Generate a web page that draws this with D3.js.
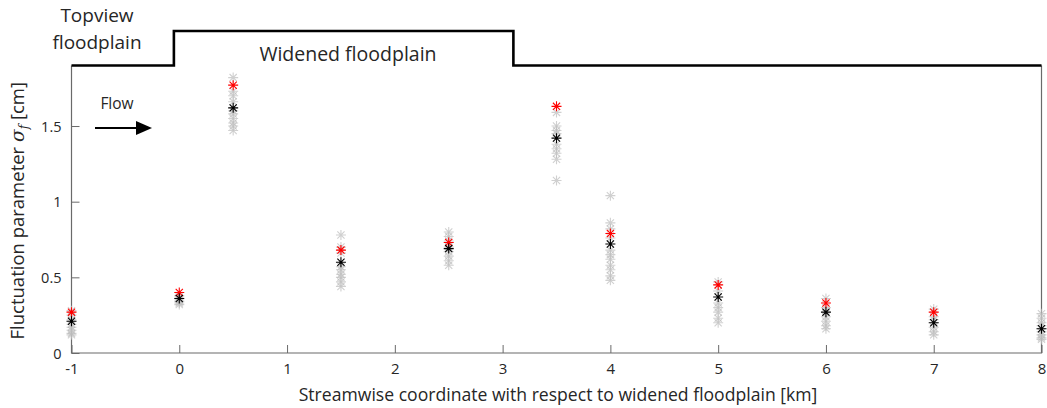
<!DOCTYPE html>
<html>
<head>
<meta charset="utf-8">
<script src="https://cdn.jsdelivr.net/npm/d3@7"></script>
<style>
  html, body { margin: 0; padding: 0; background: #fff; }
  svg { display: block; font-family: "Open Sans", "DejaVu Sans", sans-serif; }
</style>
</head>
<body>
<svg id="chart" width="1047" height="408"></svg>
<script>
// Measurement stations along the reach [km]
const stations = [-1, 0, 0.5, 1.5, 2.5, 3.5, 4, 5, 6, 7, 8];
// Individual runs (grey), highlighted run (red) and mean (black), sigma_f [cm]
const runValues = [
  [0.28, 0.25, 0.22, 0.19, 0.17, 0.15, 0.13, 0.12],
  [0.38, 0.37, 0.35, 0.34, 0.33, 0.32],
  [1.82, 1.73, 1.70, 1.66, 1.60, 1.58, 1.55, 1.52, 1.50, 1.47],
  [0.78, 0.70, 0.66, 0.57, 0.55, 0.52, 0.50, 0.47, 0.44],
  [0.80, 0.77, 0.74, 0.70, 0.67, 0.64, 0.61, 0.58],
  [1.59, 1.50, 1.47, 1.45, 1.38, 1.35, 1.32, 1.28, 1.14],
  [1.04, 0.86, 0.82, 0.76, 0.68, 0.65, 0.62, 0.58, 0.55, 0.51, 0.48],
  [0.47, 0.41, 0.33, 0.30, 0.27, 0.23, 0.20],
  [0.36, 0.30, 0.24, 0.21, 0.18, 0.16],
  [0.29, 0.24, 0.22, 0.17, 0.14, 0.12],
  [0.26, 0.23, 0.20, 0.18, 0.14, 0.12, 0.10, 0.09]
];
const redValues = [0.27, 0.40, 1.77, 0.68, 0.73, 1.63, 0.79, 0.45, 0.33, 0.27, null];
const meanValues = [0.21, 0.36, 1.62, 0.60, 0.69, 1.42, 0.72, 0.37, 0.27, 0.20, 0.16];

const xTicks = [-1, 0, 1, 2, 3, 4, 5, 6, 7, 8];
const xTickLabels = ["-1", "0", "1", "2", "3", "4", "5", "6", "7", "8"];
const yTicks = [0, 0.5, 1, 1.5];
const yTickLabels = ["0", "0.5", "1", "1.5"];

// Floodplain top-view outline: [km, level] (level 0 = axes top, 1 = widened)
const outlineX = [-1, -0.05, -0.05, 3.1, 3.1, 8];
const outlineLevel = [0, 0, 1, 1, 0, 0];

const svg = d3.select("#chart");
const x = d3.scaleLinear().domain([-1, 8]).range([71.5, 1041.5]);
const y = d3.scaleLinear().domain([0, 1.9]).range([353, 65.5]);
const axisColor = "#6a6a6a";
const textColor = "#262626";

// Axes: bottom, left and right edges; ticks point inward
const xAxis = svg.append("g").attr("transform", `translate(0,${y(0)})`)
  .call(d3.axisBottom(x).tickValues(xTicks).tickSize(-8).tickPadding(10)
    .tickFormat((d, i) => xTickLabels[i]));
const yAxis = svg.append("g").attr("transform", `translate(${x(-1)},0)`)
  .call(d3.axisLeft(y).tickValues(yTicks).tickSize(-8).tickPadding(10)
    .tickFormat((d, i) => yTickLabels[i]));
[xAxis, yAxis].forEach(g => {
  g.select(".domain").remove();
  g.selectAll(".tick line").attr("stroke", axisColor);
  g.selectAll(".tick text").attr("fill", textColor).style("font-size", "15px")
    .style("font-family", "'Open Sans', sans-serif");
});
yAxis.selectAll(".tick text").attr("dy", "0.35em").style("font-size", "14.5px");

svg.append("path")
  .attr("d", `M${x(-1)},${y(1.9)}V${y(0)}H${x(8)}V${y(1.9)}`)
  .attr("fill", "none").attr("stroke", axisColor).attr("stroke-width", 1.2);

// Asterisk marker
const r = 5;
const d2 = r * 0.72;
const star = `M0,${-r}V${r}M${-r},0H${r}M${-d2},${-d2}L${d2},${d2}M${-d2},${d2}L${d2},${-d2}`;

const greyPts = [];
stations.forEach((s, i) => runValues[i].forEach(v => greyPts.push({ s, v })));
svg.append("g").selectAll("path").data(greyPts).join("path")
  .attr("d", star)
  .attr("transform", d => `translate(${x(d.s)},${y(d.v)})`)
  .attr("stroke", "#bcbcbc").attr("stroke-opacity", 0.7).attr("stroke-width", 1.1).attr("fill", "none");

svg.append("g").selectAll("path")
  .data(stations.map((s, i) => ({ s, v: redValues[i] })).filter(d => d.v != null))
  .join("path")
  .attr("d", star)
  .attr("transform", d => `translate(${x(d.s)},${y(d.v)})`)
  .attr("stroke", "#ff0000").attr("stroke-width", 1.1).attr("fill", "none");

svg.append("g").selectAll("path")
  .data(stations.map((s, i) => ({ s, v: meanValues[i] })))
  .join("path")
  .attr("d", star)
  .attr("transform", d => `translate(${x(d.s)},${y(d.v)})`)
  .attr("stroke", "#000").attr("stroke-width", 1.1).attr("fill", "none");

// Floodplain outline
const levelY = d3.scaleLinear().domain([0, 1]).range([y(1.9), 31]);
const outline = d3.line().x(d => x(d[0])).y(d => levelY(d[1]));
svg.append("path")
  .datum(outlineX.map((v, i) => [v, outlineLevel[i]]))
  .attr("d", outline)
  .attr("fill", "none").attr("stroke", "#000").attr("stroke-width", 2.6)
  .attr("stroke-linejoin", "miter");

// Annotations
const ann = svg.append("g").attr("fill", textColor).style("font-size", "19px")
  .attr("text-anchor", "middle");
ann.append("text").attr("x", 97).attr("y", 22).text("Topview");
ann.append("text").attr("x", 97).attr("y", 49).text("floodplain");
ann.append("text").attr("x", 348).attr("y", 61).style("font-size", "19.5px").text("Widened floodplain");
ann.append("text").attr("x", 117).attr("y", 109).style("font-size", "15.5px").text("Flow");

// Flow arrow
svg.append("line").attr("x1", 95).attr("x2", 138).attr("y1", 128).attr("y2", 128)
  .attr("stroke", "#000").attr("stroke-width", 1.8);
svg.append("path").attr("d", "M136,121L152,128L136,135Z").attr("fill", "#000");

// Axis titles
svg.append("text").attr("x", 558).attr("y", 401).attr("text-anchor", "middle")
  .attr("fill", textColor).style("font-size", "17.6px")
  .text("Streamwise coordinate with respect to widened floodplain [km]");

const yt = svg.append("text")
  .attr("transform", `translate(24,${y(0.94)}) rotate(-90)`)
  .attr("text-anchor", "middle").attr("fill", textColor).style("font-size", "18.5px");
yt.append("tspan").text("Fluctuation parameter ");
yt.append("tspan").style("font-style", "italic").style("font-family", "'DejaVu Serif', serif").text("σ");
yt.append("tspan").attr("dy", 4).style("font-style", "italic").style("font-size", "12px")
  .style("font-family", "'DejaVu Serif', serif").text("f");
yt.append("tspan").attr("dy", -4).text(" [cm]");
</script>
</body>
</html>
